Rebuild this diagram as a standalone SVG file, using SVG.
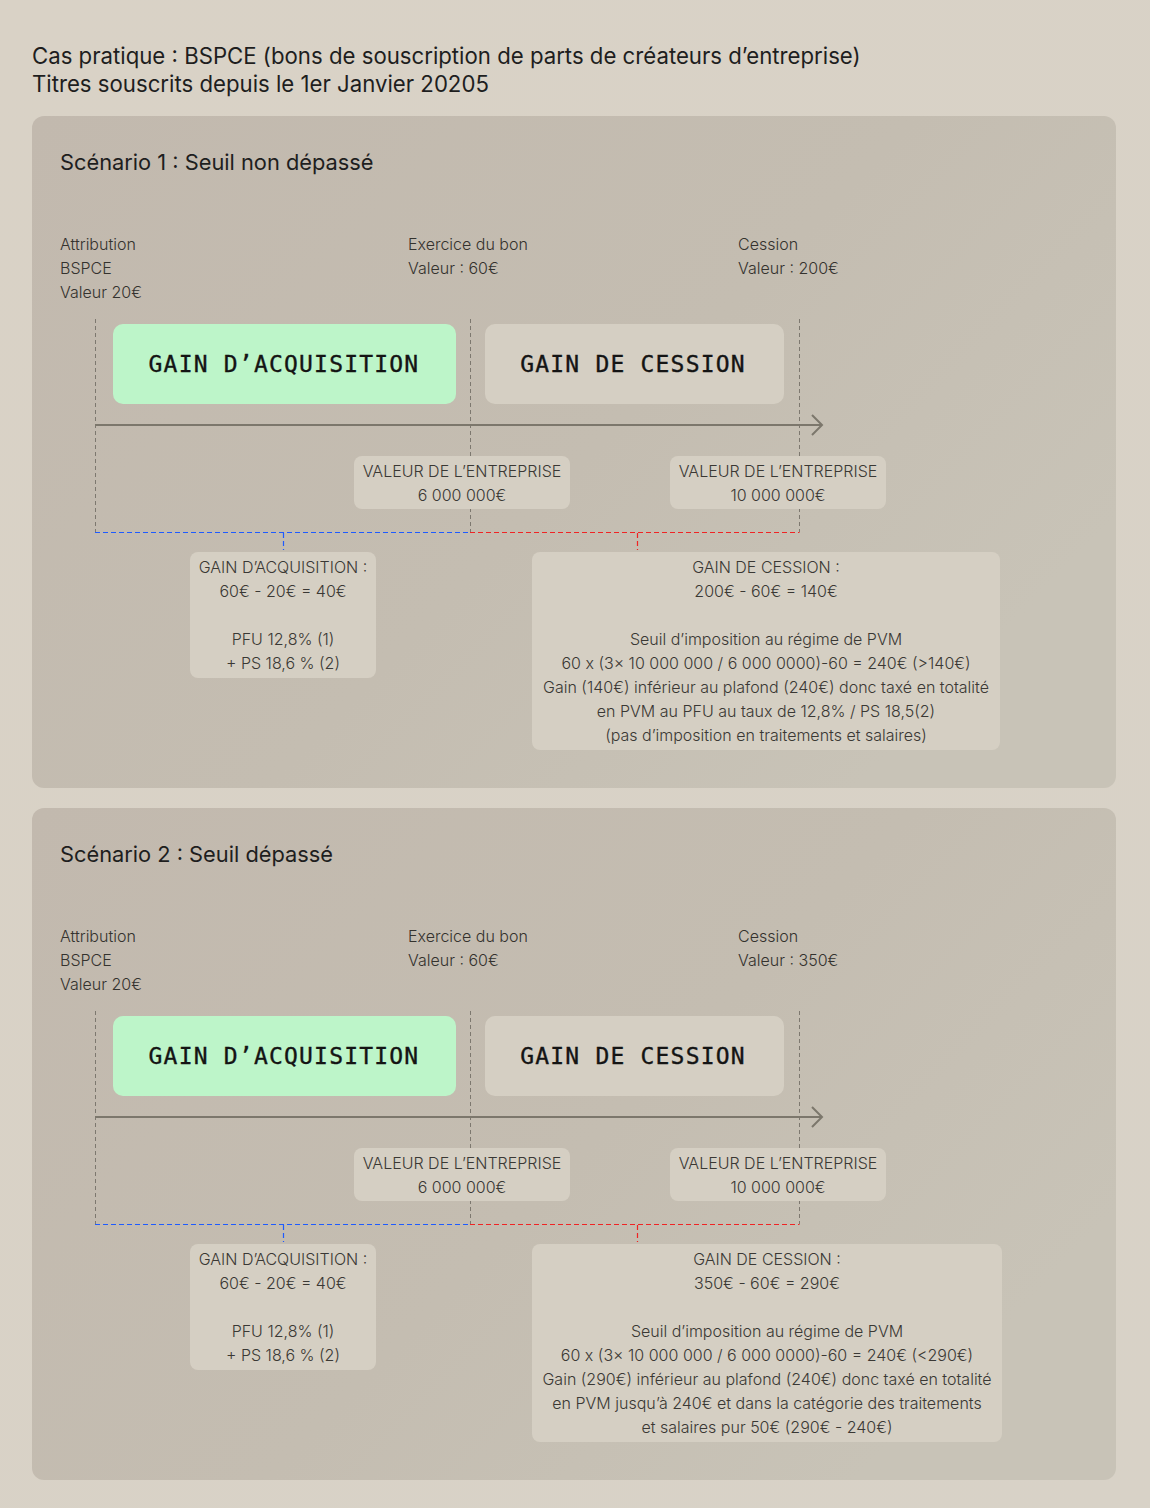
<svg xmlns="http://www.w3.org/2000/svg" width="1150" height="1508" viewBox="0 0 1150 1508">
<defs>
<linearGradient id="bg" x1="0" y1="0" x2="1" y2="1"><stop offset="0" stop-color="#D9D2C6"/><stop offset="1" stop-color="#D8D2C7"/></linearGradient>
<linearGradient id="pn" x1="0" y1="0" x2="1" y2="0.6"><stop offset="0" stop-color="#C2B9AE"/><stop offset="0.6" stop-color="#C4BDB1"/><stop offset="1" stop-color="#C8C3B7"/></linearGradient>
<style>
.title{font-family:Inter,"Liberation Sans",sans-serif;font-size:22.2px;fill:#1e1e1e}
.sc{font-family:Inter,"Liberation Sans",sans-serif;font-size:21.8px;fill:#1e1e1e}
.lbl{font-family:Inter,"Liberation Sans",sans-serif;font-size:16px;font-weight:300;fill:#34322e}
.body{font-family:Inter,"Liberation Sans",sans-serif;font-size:16px;font-weight:300;fill:#3a3834;text-anchor:middle}
.mono{font-family:"DejaVu Sans Mono","Liberation Mono",monospace;font-size:23px;fill:#141414;stroke:#141414;stroke-width:0.35px;text-anchor:middle;letter-spacing:1.2px}
.green{fill:#BDF5C9}
.light{fill:#D5CFC3}
.vdash{stroke:#7d786f;stroke-width:1;stroke-dasharray:4 3;fill:none}
.blue{stroke:#1E5BFF;stroke-width:1.2;stroke-dasharray:5 3;fill:none}
.red{stroke:#F02424;stroke-width:1.2;stroke-dasharray:5 3;fill:none}
.axis{stroke:#7c776c;stroke-width:2;fill:none}
</style>
</defs>
<rect width="1150" height="1508" fill="url(#bg)"/>
<g id="header">
<text class="title" x="32" y="64">Cas pratique : BSPCE (bons de souscription de parts de créateurs d’entreprise)</text>
<text class="title" x="32" y="92">Titres souscrits depuis le 1er Janvier 20205</text>
</g>

<g id="scenario1">
<rect id="panel1" x="32" y="116" width="1084" height="672" rx="12" fill="url(#pn)"/>
<text class="sc" x="60" y="170">Scénario 1 : Seuil non dépassé</text>
<g id="s1-labels">
<text class="lbl" x="60" y="250">Attribution</text>
<text class="lbl" x="60" y="274">BSPCE</text>
<text class="lbl" x="60" y="298">Valeur 20€</text>
<text class="lbl" x="408" y="250">Exercice du bon</text>
<text class="lbl" x="408" y="274">Valeur : 60€</text>
<text class="lbl" x="738" y="250">Cession</text>
<text class="lbl" x="738" y="274">Valeur : 200€</text>
</g>
<g id="s1-connectors">
<line class="vdash" x1="95.5" y1="319" x2="95.5" y2="532"/>
<line class="vdash" x1="470.5" y1="319" x2="470.5" y2="532"/>
<line class="vdash" x1="799.5" y1="319" x2="799.5" y2="532"/>
<line class="axis" x1="95" y1="425" x2="822" y2="425"/>
<polyline class="axis" points="812,415 822,425 812,435"/>
<line class="blue" x1="95" y1="532.5" x2="470" y2="532.5"/>
<line class="red" x1="470" y1="532.5" x2="799.5" y2="532.5"/>
<line class="blue" x1="283.5" y1="533" x2="283.5" y2="550"/>
<line class="red" x1="637.5" y1="533" x2="637.5" y2="550"/>
</g>
<g id="s1-gain-acq"><rect class="green" x="113" y="324" width="343" height="80" rx="10"/><text class="mono" x="284" y="372">GAIN D’ACQUISITION</text></g>
<g id="s1-gain-ces"><rect class="light" x="485" y="324" width="299" height="80" rx="10"/><text class="mono" x="633" y="372">GAIN DE CESSION</text></g>
<g id="s1-val1"><rect class="light" x="354" y="456" width="216" height="53" rx="8"/><text class="body" x="462" y="477">VALEUR DE L’ENTREPRISE</text><text class="body" x="462" y="501">6 000 000€</text></g>
<g id="s1-val2"><rect class="light" x="670" y="456" width="216" height="53" rx="8"/><text class="body" x="778" y="477">VALEUR DE L’ENTREPRISE</text><text class="body" x="778" y="501">10 000 000€</text></g>
<g id="s1-acq-detail"><rect class="light" x="190" y="552" width="186" height="126" rx="8"/>
<text class="body" x="283" y="573">GAIN D’ACQUISITION :</text>
<text class="body" x="283" y="597">60€ - 20€ = 40€</text>
<text class="body" x="283" y="645">PFU 12,8% (1)</text>
<text class="body" x="283" y="669">+ PS 18,6 % (2)</text></g>
<g id="s1-ces-detail"><rect class="light" x="532" y="552" width="468" height="198" rx="8"/>
<text class="body" x="766" y="573">GAIN DE CESSION :</text>
<text class="body" x="766" y="597">200€ - 60€ = 140€</text>
<text class="body" x="766" y="645">Seuil d’imposition au régime de PVM</text>
<text class="body" x="766" y="669">60 x (3× 10 000 000 / 6 000 0000)-60 = 240€ (&gt;140€)</text>
<text class="body" x="766" y="693">Gain (140€) inférieur au plafond (240€) donc taxé en totalité</text>
<text class="body" x="766" y="717">en PVM au PFU au taux de 12,8% / PS 18,5(2)</text>
<text class="body" x="766" y="741">(pas d’imposition en traitements et salaires)</text></g>
</g>

<g id="scenario2" transform="translate(0,692)">
<rect id="panel2" x="32" y="116" width="1084" height="672" rx="12" fill="url(#pn)"/>
<text class="sc" x="60" y="170">Scénario 2 : Seuil dépassé</text>
<g id="s2-labels">
<text class="lbl" x="60" y="250">Attribution</text>
<text class="lbl" x="60" y="274">BSPCE</text>
<text class="lbl" x="60" y="298">Valeur 20€</text>
<text class="lbl" x="408" y="250">Exercice du bon</text>
<text class="lbl" x="408" y="274">Valeur : 60€</text>
<text class="lbl" x="738" y="250">Cession</text>
<text class="lbl" x="738" y="274">Valeur : 350€</text>
</g>
<g id="s2-connectors">
<line class="vdash" x1="95.5" y1="319" x2="95.5" y2="532"/>
<line class="vdash" x1="470.5" y1="319" x2="470.5" y2="532"/>
<line class="vdash" x1="799.5" y1="319" x2="799.5" y2="532"/>
<line class="axis" x1="95" y1="425" x2="822" y2="425"/>
<polyline class="axis" points="812,415 822,425 812,435"/>
<line class="blue" x1="95" y1="532.5" x2="470" y2="532.5"/>
<line class="red" x1="470" y1="532.5" x2="799.5" y2="532.5"/>
<line class="blue" x1="283.5" y1="533" x2="283.5" y2="550"/>
<line class="red" x1="637.5" y1="533" x2="637.5" y2="550"/>
</g>
<g id="s2-gain-acq"><rect class="green" x="113" y="324" width="343" height="80" rx="10"/><text class="mono" x="284" y="372">GAIN D’ACQUISITION</text></g>
<g id="s2-gain-ces"><rect class="light" x="485" y="324" width="299" height="80" rx="10"/><text class="mono" x="633" y="372">GAIN DE CESSION</text></g>
<g id="s2-val1"><rect class="light" x="354" y="456" width="216" height="53" rx="8"/><text class="body" x="462" y="477">VALEUR DE L’ENTREPRISE</text><text class="body" x="462" y="501">6 000 000€</text></g>
<g id="s2-val2"><rect class="light" x="670" y="456" width="216" height="53" rx="8"/><text class="body" x="778" y="477">VALEUR DE L’ENTREPRISE</text><text class="body" x="778" y="501">10 000 000€</text></g>
<g id="s2-acq-detail"><rect class="light" x="190" y="552" width="186" height="126" rx="8"/>
<text class="body" x="283" y="573">GAIN D’ACQUISITION :</text>
<text class="body" x="283" y="597">60€ - 20€ = 40€</text>
<text class="body" x="283" y="645">PFU 12,8% (1)</text>
<text class="body" x="283" y="669">+ PS 18,6 % (2)</text></g>
<g id="s2-ces-detail"><rect class="light" x="532" y="552" width="470" height="198" rx="8"/>
<text class="body" x="767" y="573">GAIN DE CESSION :</text>
<text class="body" x="767" y="597">350€ - 60€ = 290€</text>
<text class="body" x="767" y="645">Seuil d’imposition au régime de PVM</text>
<text class="body" x="767" y="669">60 x (3× 10 000 000 / 6 000 0000)-60 = 240€ (&lt;290€)</text>
<text class="body" x="767" y="693">Gain (290€) inférieur au plafond (240€) donc taxé en totalité</text>
<text class="body" x="767" y="717">en PVM jusqu’à 240€ et dans la catégorie des traitements</text>
<text class="body" x="767" y="741">et salaires pur 50€ (290€ - 240€)</text></g>
</g>
</svg>
